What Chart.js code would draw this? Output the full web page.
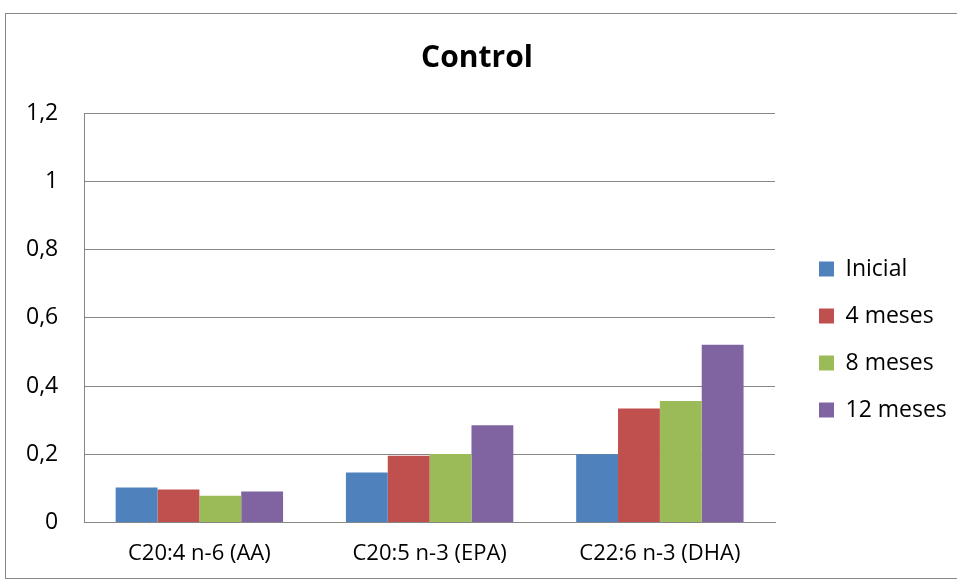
<!DOCTYPE html>
<html>
<head>
<meta charset="utf-8">
<script src="https://cdn.jsdelivr.net/npm/chart.js@4"></script>
<style>
  html, body { margin: 0; padding: 0; background: #fff; }
  #wrap { position: relative; width: 957px; height: 581px; }
  #frame { position: absolute; left: 5px; top: 13px; width: 960px; height: 566px; border: 1px solid #868686; box-sizing: border-box; }
  canvas { position: absolute; left: 0; top: 0; }
</style>
</head>
<body>
<div id="wrap">
  <div id="frame"></div>
  <canvas id="chart" width="957" height="581"></canvas>
</div>
<script>
// valores
const categorias = ['C20:4 n-6 (AA)', 'C20:5 n-3 (EPA)', 'C22:6 n-3 (DHA)'];
const inicial = [0.103, 0.147, 0.200];
const meses4 = [0.097, 0.196, 0.334];
const meses8 = [0.079, 0.201, 0.356];
const meses12 = [0.091, 0.285, 0.521];
const yTicks = [0, 0.2, 0.4, 0.6, 0.8, 1, 1.2];

const fuente = '"Open Sans", sans-serif';

new Chart(document.getElementById('chart'), {
    type: 'bar',
    data: {
        labels: categorias,
        datasets: [
            { label: 'Inicial', data: inicial, backgroundColor: '#4f81bd' },
            { label: '4 meses', data: meses4, backgroundColor: '#c0504d' },
            { label: '8 meses', data: meses8, backgroundColor: '#9bbb59' },
            { label: '12 meses', data: meses12, backgroundColor: '#8064a2' }
        ]
    },
    options: {
        responsive: false,
        animation: false,
        layout: { padding: { left: 0, right: 3, top: 40, bottom: 4 } },
        datasets: { bar: { categoryPercentage: 0.727, barPercentage: 1, borderWidth: 0 } },
        plugins: {
            title: {
                display: true,
                text: 'Control',
                color: '#000',
                font: { family: fuente, size: 30, weight: 'bold' },
                padding: { top: 0, bottom: 37 }
            },
            legend: {
                position: 'right',
                // titulo vacio solo para bajar un poco la leyenda
                title: { display: true, text: ' ', font: { size: 10, lineHeight: 1 }, padding: { top: 26, bottom: 26 } },
                labels: {
                    color: '#000',
                    font: { family: fuente, size: 23 },
                    boxWidth: 15,
                    boxHeight: 15,
                    padding: 24
                }
            },
            tooltip: { enabled: false }
        },
        scales: {
            x: {
                grid: { display: false },
                border: { color: '#868686', width: 1 },
                ticks: { color: '#000', font: { family: fuente, size: 22 }, padding: 10 }
            },
            y: {
                min: 0,
                max: 1.2,
                afterBuildTicks: axis => { axis.ticks = yTicks.map(v => ({ value: v })); },
                grid: { color: '#868686', drawTicks: false },
                border: { color: '#868686', width: 1 },
                ticks: {
                    color: '#000',
                    font: { family: fuente, size: 23 },
                    padding: 26,
                    callback: v => String(Math.round(v * 10) / 10).replace('.', ',')
                }
            },
            // hueco entre el area del grafico y la leyenda
            hueco: {
                position: 'right',
                grid: { display: false },
                border: { display: false },
                ticks: { display: false },
                afterFit: s => { s.width = 20; }
            }
        }
    }
});
</script>
</body>
</html>
